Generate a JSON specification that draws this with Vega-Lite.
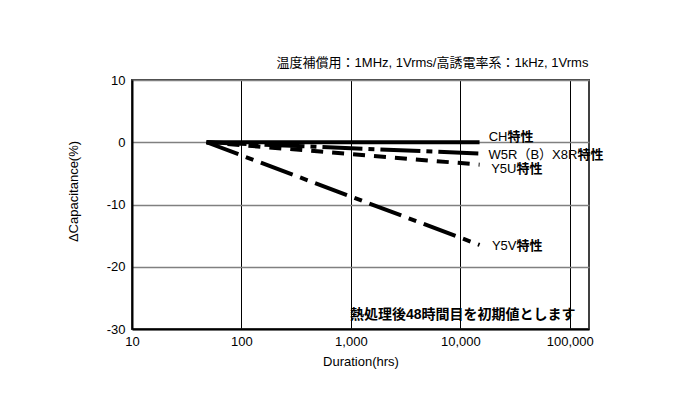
{
  "$schema": "https://vega.github.io/schema/vega-lite/v6.json",
  "width": 457,
  "height": 249,
  "autosize": "none",
  "padding": {"left": 132, "top": 80, "right": 101, "bottom": 89},
  "background": "white",
  "config": {
    "font": "'Liberation Sans', 'Noto Sans CJK JP', sans-serif",
    "view": {"stroke": "#404040", "strokeWidth": 2},
    "axis": {
      "labelColor": "#000",
      "titleColor": "#000",
      "titleFontWeight": "normal",
      "labelFontSize": 13,
      "titleFontSize": 13,
      "ticks": false,
      "domainColor": "#000",
      "domainWidth": 2
    }
  },
  "title": {
    "text": "温度補償用：1MHz, 1Vrms/高誘電率系：1kHz, 1Vrms",
    "anchor": "end",
    "fontSize": 13,
    "fontWeight": "normal",
    "color": "#000",
    "offset": 4,
    "dx": -15
  },
  "datasets": {
    "lines": [
      {"series": "CH", "hours": 48, "cap": 0},
      {"series": "CH", "hours": 15000, "cap": 0},
      {"series": "W5R", "hours": 48, "cap": 0},
      {"series": "W5R", "hours": 15000, "cap": -1.8},
      {"series": "Y5U", "hours": 48, "cap": 0},
      {"series": "Y5U", "hours": 15000, "cap": -3.6},
      {"series": "Y5V", "hours": 48, "cap": 0},
      {"series": "Y5V", "hours": 15000, "cap": -16.5}
    ],
    "labels": [
      {"hours": 27000, "cap": 0.8, "a": "CH", "b": "特性"},
      {"hours": 117500, "cap": -2.0, "a": "W5R（B）X8R", "b": "特性"},
      {"hours": 32600, "cap": -4.3, "a": "Y5U", "b": "特性"},
      {"hours": 32600, "cap": -16.6, "a": "Y5V", "b": "特性"}
    ],
    "note": [
      {"hours": 980, "cap": -27.7, "t": "熱処理後48時間目を初期値とします"}
    ]
  },
  "encoding": {
    "x": {
      "field": "hours",
      "type": "quantitative",
      "scale": {"type": "log", "domain": [10, 150000], "nice": false},
      "axis": {
        "values": [10, 100, 1000, 10000, 100000],
        "format": ",",
        "grid": true,
        "gridColor": "#000",
        "gridWidth": 1,
        "labelPadding": 6,
        "labelFlush": false,
        "title": "Duration(hrs)",
        "titlePadding": 7
      }
    },
    "y": {
      "field": "cap",
      "type": "quantitative",
      "scale": {"domain": [-30, 10], "nice": false},
      "axis": {
        "values": [-30, -20, -10, 0, 10],
        "labelExpr": "'' + datum.value",
        "grid": true,
        "gridColor": "#808080",
        "gridWidth": 1.5,
        "labelPadding": 7,
        "title": "ΔCapacitance(%)",
        "titleX": -59,
        "titleY": 111,
        "titleBaseline": "middle"
      }
    }
  },
  "layer": [
    {
      "data": {"name": "lines"},
      "mark": {"type": "line", "strokeWidth": 4, "strokeCap": "butt", "color": "#000"},
      "encoding": {
        "strokeDash": {
          "field": "series",
          "type": "nominal",
          "scale": {
            "domain": ["CH", "W5R", "Y5U", "Y5V"],
            "range": [[1, 0], [40, 6, 6, 6], [12, 9], [34, 8, 8, 8]]
          },
          "legend": null
        }
      }
    },
    {
      "data": {"name": "labels"},
      "mark": {"type": "text", "align": "right", "baseline": "middle", "fontSize": 13, "color": "#000"},
      "encoding": {"text": {"field": "a"}}
    },
    {
      "data": {"name": "labels"},
      "mark": {"type": "text", "align": "left", "baseline": "middle", "fontSize": 13, "fontWeight": "bold", "color": "#000"},
      "encoding": {"text": {"field": "b"}}
    },
    {
      "data": {"name": "note"},
      "mark": {"type": "text", "align": "left", "baseline": "middle", "fontSize": 14, "fontWeight": "bold", "color": "#000"},
      "encoding": {"text": {"field": "t"}}
    }
  ]
}
